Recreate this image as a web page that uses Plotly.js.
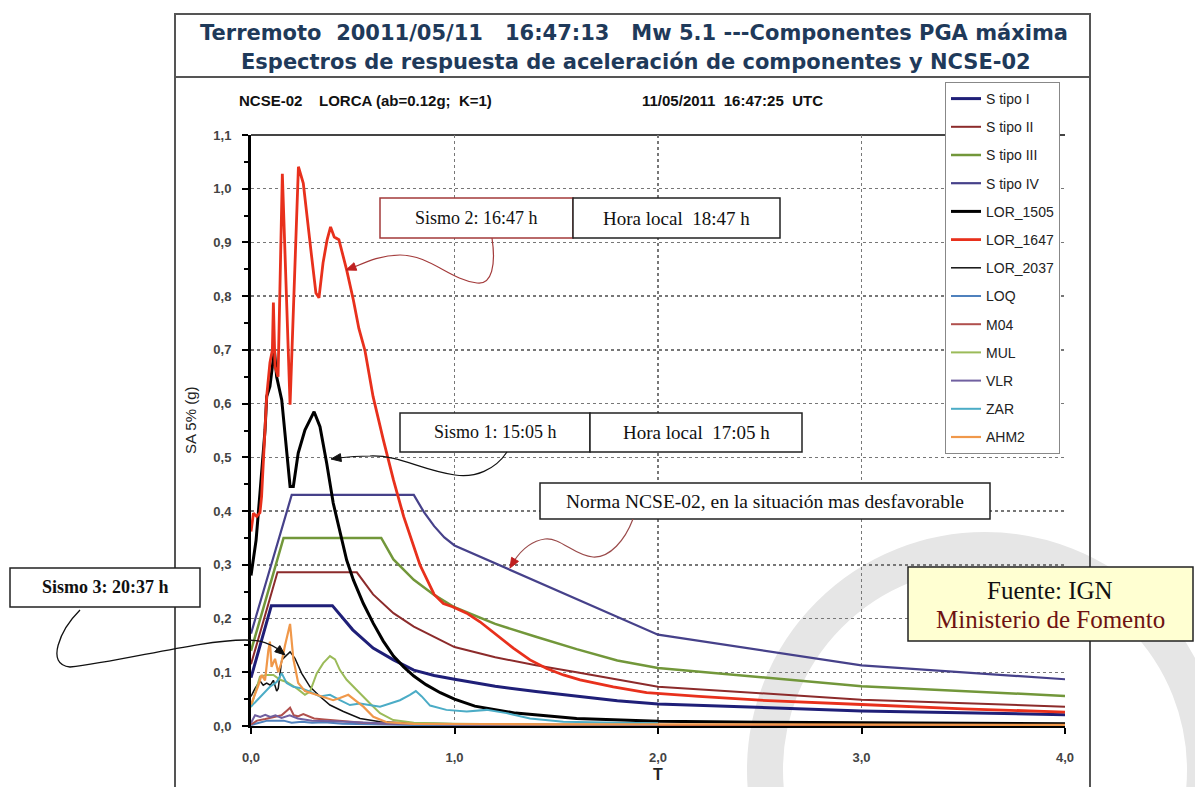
<!DOCTYPE html>
<html><head><meta charset="utf-8">
<script src="https://cdn.plot.ly/plotly-3.0.1.min.js"></script>
<style>html,body{margin:0;padding:0;background:#fff;}#chart{width:1195px;height:787px;}</style>
</head><body><div id="chart"></div>
<script>
// ---------- DATA ----------
const seriesNames = ['S tipo I','S tipo II','S tipo III','S tipo IV','LOR_1505','LOR_1647','LOR_2037','LOQ','M04','MUL','VLR','ZAR','AHM2'];

const T_S1 = [0, 0.1, 0.4, 0.5, 0.6, 0.7, 0.8, 0.9, 1.0, 1.2, 1.4, 1.6, 1.8, 2.0, 3.0, 4.0];
const SA_S1 = [0.09, 0.224, 0.224, 0.179, 0.145, 0.123, 0.104, 0.094, 0.087, 0.074, 0.064, 0.056, 0.047, 0.041, 0.028, 0.021];

const T_S2 = [0, 0.13, 0.52, 0.6, 0.7, 0.8, 0.9, 1.0, 1.2, 1.4, 1.6, 1.8, 2.0, 3.0, 4.0];
const SA_S2 = [0.115, 0.286, 0.286, 0.245, 0.21, 0.185, 0.166, 0.147, 0.128, 0.113, 0.1, 0.087, 0.073, 0.049, 0.036];

const T_S3 = [0, 0.16, 0.64, 0.7, 0.8, 0.9, 1.0, 1.2, 1.4, 1.6, 1.8, 2.0, 3.0, 4.0];
const SA_S3 = [0.14, 0.35, 0.35, 0.31, 0.272, 0.244, 0.221, 0.19, 0.166, 0.143, 0.122, 0.108, 0.074, 0.056];

const T_S4 = [0, 0.2, 0.8, 0.85, 0.9, 0.95, 1.0, 2.0, 3.0, 4.0];
const SA_S4 = [0.172, 0.43, 0.43, 0.398, 0.372, 0.351, 0.336, 0.17, 0.113, 0.087];

const T_1505 = [0, 0.025, 0.044, 0.069, 0.077, 0.093, 0.115, 0.126, 0.151, 0.175, 0.192, 0.208, 0.232, 0.265, 0.31, 0.339, 0.372, 0.404, 0.446, 0.47, 0.503, 0.552, 0.601, 0.65, 0.7, 0.75, 0.8, 0.86, 0.93, 1.0, 1.1, 1.3, 1.6, 2.0, 2.5, 3.0, 3.5, 4.0];
const SA_1505 = [0.28, 0.346, 0.433, 0.551, 0.613, 0.632, 0.70, 0.65, 0.607, 0.52, 0.446, 0.446, 0.508, 0.551, 0.585, 0.557, 0.489, 0.415, 0.346, 0.309, 0.272, 0.228, 0.191, 0.158, 0.13, 0.11, 0.093, 0.077, 0.062, 0.05, 0.037, 0.024, 0.014, 0.009, 0.007, 0.006, 0.005, 0.004];

const T_1647 = [0, 0.012, 0.028, 0.044, 0.052, 0.077, 0.093, 0.105, 0.110, 0.118, 0.133, 0.154, 0.192, 0.233, 0.257, 0.281, 0.297, 0.319, 0.334, 0.354, 0.374, 0.391, 0.409, 0.432, 0.45, 0.47, 0.503, 0.53, 0.56, 0.6, 0.65, 0.7, 0.75, 0.79, 0.83, 0.9, 0.945, 0.99, 1.06, 1.125, 1.207, 1.289, 1.371, 1.453, 1.535, 1.617, 1.78, 1.944, 2.2, 2.5, 3.0, 3.5, 4.0];
const SA_1647 = [0.362, 0.396, 0.39, 0.397, 0.427, 0.613, 0.676, 0.70, 0.788, 0.669, 0.65, 1.028, 0.598, 1.041, 1.01, 0.924, 0.877, 0.806, 0.797, 0.862, 0.905, 0.929, 0.91, 0.905, 0.88, 0.849, 0.793, 0.74, 0.699, 0.613, 0.533, 0.458, 0.39, 0.346, 0.30, 0.245, 0.228, 0.222, 0.21, 0.194, 0.169, 0.145, 0.123, 0.107, 0.095, 0.086, 0.073, 0.062, 0.055, 0.048, 0.04, 0.032, 0.026];

const T_2037 = [0, 0.02, 0.044, 0.06, 0.077, 0.095, 0.11, 0.126, 0.134, 0.151, 0.192, 0.216, 0.249, 0.29, 0.339, 0.388, 0.454, 0.536, 0.634, 0.8, 1.0, 1.2];
const SA_2037 = [0.055, 0.07, 0.084, 0.076, 0.08, 0.076, 0.085, 0.065, 0.07, 0.123, 0.138, 0.126, 0.098, 0.073, 0.055, 0.039, 0.027, 0.014, 0.008, 0.005, 0.004, 0.003];

const T_LOQ = [0, 0.04, 0.08, 0.12, 0.16, 0.2, 0.25, 0.3, 0.36, 0.45, 0.6, 0.8, 1.0, 1.5, 2.0];
const SA_LOQ = [0.002, 0.006, 0.01, 0.01, 0.01, 0.006, 0.008, 0.006, 0.007, 0.004, 0.003, 0.002, 0.002, 0.001, 0.001];

const T_M04 = [0, 0.03, 0.07, 0.11, 0.15, 0.18, 0.192, 0.21, 0.23, 0.257, 0.28, 0.31, 0.36, 0.42, 0.55, 0.7, 1.0, 1.5, 2.0, 3.0, 4.0];
const SA_M04 = [0.003, 0.01, 0.013, 0.016, 0.02, 0.03, 0.034, 0.02, 0.018, 0.022, 0.019, 0.014, 0.012, 0.01, 0.006, 0.004, 0.003, 0.002, 0.002, 0.002, 0.002];

const T_MUL = [0, 0.02, 0.044, 0.077, 0.11, 0.143, 0.175, 0.225, 0.265, 0.29, 0.323, 0.355, 0.388, 0.413, 0.437, 0.47, 0.503, 0.536, 0.585, 0.634, 0.699, 0.8, 1.0, 1.5, 2.0];
const SA_MUL = [0.035, 0.061, 0.092, 0.095, 0.095, 0.086, 0.082, 0.07, 0.058, 0.064, 0.098, 0.117, 0.13, 0.124, 0.104, 0.086, 0.073, 0.061, 0.042, 0.024, 0.011, 0.006, 0.004, 0.003, 0.002];

const T_VLR = [0, 0.02, 0.045, 0.07, 0.095, 0.12, 0.15, 0.19, 0.23, 0.3, 0.4, 0.55, 0.7, 1.0, 1.5, 2.0];
const SA_VLR = [0.006, 0.02, 0.017, 0.021, 0.017, 0.02, 0.015, 0.02, 0.014, 0.01, 0.009, 0.006, 0.004, 0.003, 0.002, 0.002];

const T_ZAR = [0, 0.03, 0.06, 0.093, 0.126, 0.151, 0.175, 0.208, 0.249, 0.29, 0.339, 0.388, 0.437, 0.486, 0.536, 0.585, 0.634, 0.683, 0.732, 0.781, 0.81, 0.839, 0.88, 0.96, 1.06, 1.158, 1.256, 1.371, 1.535, 1.8, 2.0];
const SA_ZAR = [0.036, 0.048, 0.061, 0.073, 0.082, 0.098, 0.08, 0.073, 0.07, 0.064, 0.055, 0.058, 0.048, 0.039, 0.042, 0.039, 0.036, 0.042, 0.048, 0.058, 0.065, 0.055, 0.038, 0.03, 0.027, 0.03, 0.024, 0.014, 0.008, 0.006, 0.005];

const T_AHM2 = [0, 0.011, 0.036, 0.052, 0.069, 0.085, 0.093, 0.101, 0.118, 0.134, 0.151, 0.167, 0.192, 0.208, 0.232, 0.265, 0.306, 0.355, 0.404, 0.437, 0.478, 0.511, 0.552, 0.601, 0.667, 0.8, 1.5, 2.5, 4.0];
const SA_AHM2 = [0.04, 0.05, 0.075, 0.095, 0.085, 0.14, 0.157, 0.11, 0.125, 0.1, 0.12, 0.15, 0.19, 0.125, 0.08, 0.065, 0.06, 0.055, 0.048, 0.052, 0.058, 0.048, 0.036, 0.017, 0.007, 0.004, 0.003, 0.003, 0.002];

const tickValsX = [0, 1, 2, 3, 4];

// ---------- STYLE ----------
const xs = [T_S1,T_S2,T_S3,T_S4,T_1505,T_1647,T_2037,T_LOQ,T_M04,T_MUL,T_VLR,T_ZAR,T_AHM2];
const ys = [SA_S1,SA_S2,SA_S3,SA_S4,SA_1505,SA_1647,SA_2037,SA_LOQ,SA_M04,SA_MUL,SA_VLR,SA_ZAR,SA_AHM2];
const colors = ['#1f1f78','#8c2b2b','#72973a','#46418a','#000000','#e8301c','#111111','#4f81bd','#b0504d','#9bbb59','#7060a0','#4bacc6','#f0984a'];
const widths = [3,2,2.5,2.2,3,2.8,1.5,2,2,2,2,2,2.2];

const traces = seriesNames.map((n,i)=>({
  type:'scatter', mode:'lines', name:n, x:xs[i], y:ys[i], legendgroup:n,
  line:{color:colors[i], width:widths[i]}, hoverinfo:'skip'
}));

// pixel -> paper helpers (for decorations only)
const L=251, R=1065, TOP=135, BOT=726;
const px = x => (x-L)/(R-L);
const py = y => (BOT-y)/(BOT-TOP);
const P = (x,y) => px(x).toFixed(5)+','+py(y).toFixed(5);
function path(d){
  return d.map(s => typeof s === 'string' ? s : P(s[0],s[1])).join(' ');
}
function rect(x0,y0,x1,y1,color,w,fill){
  return {type:'rect',xref:'paper',yref:'paper',x0:px(x0),x1:px(x1),y0:py(y1),y1:py(y0),
    line:{color:color,width:w},fillcolor:fill||'rgba(0,0,0,0)',layer:'above'};
}
function head(tx,ty,fx,fy,len,wid,color){
  const dx=tx-fx, dy=ty-fy, m=Math.hypot(dx,dy), ux=dx/m, uy=dy/m;
  const bx=tx-ux*len, by=ty-uy*len;
  const p1=[bx-uy*wid, by+ux*wid], p2=[bx+uy*wid, by-ux*wid];
  return {type:'path',xref:'paper',yref:'paper',path:path(['M',[tx,ty],'L',p1,'L',p2,'Z']),
    fillcolor:color,line:{color:color,width:1},layer:'above'};
}
function curve(d,color,w){
  return {type:'path',xref:'paper',yref:'paper',path:path(d),line:{color:color,width:w},layer:'above'};
}
function text(x,y,t,font,extra){
  return Object.assign({xref:'paper',yref:'paper',x:px(x),y:py(y),text:t,showarrow:false,
    xanchor:'center',yanchor:'middle',font:font},extra||{});
}
const serif = 'Liberation Serif, Times New Roman, serif';
const sans = 'Liberation Sans, Arial, sans-serif';
const nb = '\u00a0';

const shapes = [
  // watermark ring
  {type:'circle',xref:'paper',yref:'paper',x0:px(765),x1:px(1205),y0:py(990),y1:py(550),
   line:{color:'#e6e6e6',width:36},layer:'below'},
  // outer frame
  rect(175,14,1090,800,'#555',2),
  {type:'line',xref:'paper',yref:'paper',x0:px(175),x1:px(1090),y0:py(77),y1:py(77),line:{color:'#555',width:2},layer:'above'},
  // plot top line
  {type:'line',xref:'paper',yref:'paper',x0:0,x1:1,y0:1,y1:1,line:{color:'#444',width:2},layer:'below'},
  // Sismo 2 box
  rect(380,198,573,238,'#a33a3a',1.5,'#fff'),
  rect(573,198,780,238,'#222',1.5,'#fff'),
  curve(['M',[492,238],'C',[496,265],[492,285],[477,283],'C',[450,280],[430,255],[400,255],'C',[380,255],[366,262],[352,268]],'#a33a3a',1.2),
  head(346,270,362,264,10,4,'#c02020'),
  // Sismo 1 box
  rect(400,413,590,452,'#222',1.5,'#fff'),
  rect(590,413,802,452,'#222',1.5,'#fff'),
  curve(['M',[507,452],'C',[495,470],[475,478],[455,475],'C',[420,470],[400,455],[370,456],'C',[355,456],[346,457],[338,458]],'#111',1.2),
  head(331,459,345,457,10,4,'#111'),
  // Norma box
  rect(540,483,990,519,'#222',1.5,'#fff'),
  curve(['M',[633,519],'C',[625,540],[610,558],[593,557],'C',[575,556],[560,537],[545,539],'C',[530,541],[520,552],[514,561]],'#9a4a4a',1.2),
  head(510,568,517,556,10,4,'#c02020'),
  // Sismo 3 box
  rect(10,568,200,607,'#222',1.5,'#fff'),
  curve(['M',[80,610],'C',[60,630],[45,665],[70,667],'C',[120,662],[200,640],[245,640],'C',[262,640],[270,644],[278,649]],'#111',1.3),
  head(285,655,274,646,10,4,'#111'),
  // Fuente box
  rect(908,567,1193,641,'#222',1.5,'#ffffd2')
];

const titleFont = {family:'DejaVu Sans, Verdana, sans-serif',size:21,color:'#1f3a5a',weight:'bold'};
const annotations = [
  text(634,33,'Terremoto'+nb+' 20011/05/11'+nb+nb+' 16:47:13'+nb+nb+' Mw 5.1 ---Componentes PGA máxima',titleFont),
  text(636,62,'Espectros de respuesta de aceleración de componentes y NCSE-02',titleFont),
  text(237,100,'<b>NCSE-02'+nb+nb+nb+' LORCA (ab=0.12g;'+nb+' K=1)</b>',{family:sans,size:15,color:'#111'},{xanchor:'left'}),
  text(640,100,'<b>11/05/2011'+nb+' 16:47:25'+nb+' UTC</b>',{family:sans,size:15,color:'#111'},{xanchor:'left'}),
  text(190,420,'SA 5% (g)',{family:sans,size:15,color:'#222'},{textangle:-90}),
  text(658,774,'<b>T</b>',{family:sans,size:16,color:'#222'}),
  text(476,218,'Sismo 2: 16:47 h',{family:serif,size:18,color:'#111'}),
  text(676,218,'Hora local'+nb+' 18:47 h',{family:serif,size:19,color:'#111'}),
  text(495,432,'Sismo 1: 15:05 h',{family:serif,size:18,color:'#111'}),
  text(696,432,'Hora local'+nb+' 17:05 h',{family:serif,size:19,color:'#111'}),
  text(765,501,'Norma NCSE-02, en la situación mas desfavorable',{family:serif,size:19.5,color:'#111'}),
  text(105,587,'<b>Sismo 3: 20:37 h</b>',{family:serif,size:18,color:'#111'}),
  text(1050,590,'Fuente: IGN',{family:serif,size:25,color:'#111'}),
  text(1050,619,'Ministerio de Fomento',{family:serif,size:25,color:'#6e1212'})
];

const axisFont = {family:sans,size:13,color:'#444',weight:'bold'};
const layout = {
  width:1195, height:787,
  margin:{l:L, r:1195-R, t:TOP, b:787-BOT, pad:0},
  paper_bgcolor:'#fff', plot_bgcolor:'rgba(0,0,0,0)',
  separators:',.',
  showlegend:true,
  legend:{x:px(945), y:py(82), xanchor:'left', yanchor:'top', bgcolor:'#fff',
    bordercolor:'#888', borderwidth:1, font:{family:sans,size:14,color:'#222'},
    tracegroupgap:7, itemwidth:30},
  xaxis:{range:[0,4], tickvals:tickValsX, tickformat:'.1f', showgrid:true, gridcolor:'#777',
    griddash:'dot', gridwidth:1.5, showline:true, linecolor:'#000', linewidth:2,
    ticks:'outside', ticklen:6, tickwidth:2, tickcolor:'#000', tickfont:axisFont,
    zeroline:false, ticklabelstandoff:12, fixedrange:true},
  yaxis:{range:[0,1.1], dtick:0.1, tickformat:'.1f', showgrid:true, gridcolor:'#777',
    griddash:'dot', gridwidth:1.5, showline:true, linecolor:'#000', linewidth:3,
    ticks:'outside', ticklen:6, tickwidth:2, tickcolor:'#000', tickfont:axisFont,
    zeroline:false, ticklabelstandoff:8, fixedrange:true,
    minor:{dtick:0.05, ticks:'outside', ticklen:4, tickwidth:2, tickcolor:'#000', showgrid:false}},
  shapes:shapes,
  annotations:annotations
};

Plotly.newPlot('chart', traces, layout, {staticPlot:true, displayModeBar:false});
</script>
</body></html>
